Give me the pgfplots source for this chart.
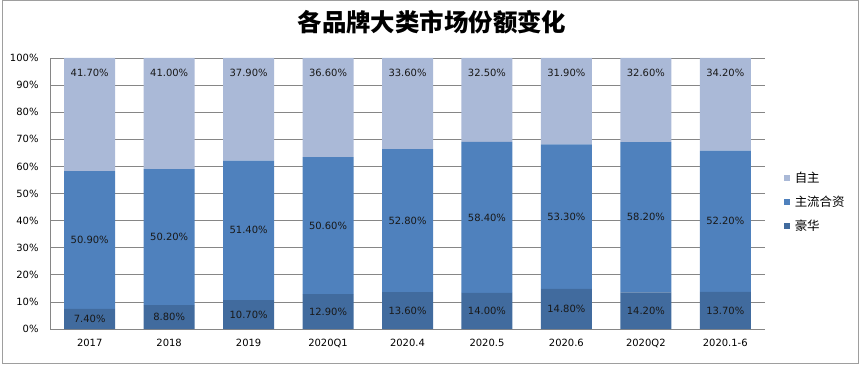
\documentclass[border=0pt]{standalone}
\usepackage{pgfplots}
\usepackage{pgfplotstable}
\pgfplotsset{compat=1.18}
\usepackage{fontspec}
\setmainfont{DejaVu Sans}
\newfontfamily\cjk{Noto Sans CJK SC}
\definecolor{cOwn}{HTML}{AAB9D7}
\definecolor{cMain}{HTML}{4F81BD}
\definecolor{cLux}{HTML}{416B9E}
\definecolor{cGrid}{HTML}{868686}
\pgfplotstableread{
x lux main own
0 7.4 50.9 41.7
1 8.8 50.2 41.0
2 10.7 51.4 37.9
3 12.9 50.6 36.6
4 13.6 52.8 33.6
5 14.0 58.4 32.5
6 14.8 53.3 31.9
7 14.2 58.2 32.6
8 13.7 52.2 34.2
}\datatable
\newcommand{\tot}{(\thisrow{lux}+\thisrow{main}+\thisrow{own})}
\begin{document}
\begin{tikzpicture}[x=1bp,y=1bp]
\path (0,0) rectangle (864,364);
\draw[cGrid!80, line width=1bp] (2,1) rectangle (858,363);
\node[font=\cjk\bfseries\fontsize{24.5}{28}\selectfont] at (432,342) {各品牌大类市场份额变化};
\begin{axis}[
  at={(50bp,35bp)}, anchor=south west,
  scale only axis, width=715bp, height=271bp,
  xmin=-0.5, xmax=8.5, ymin=0, ymax=100,
  ybar stacked, bar width=51bp,
  axis x line*=bottom, axis y line*=left,
  axis line style={cGrid, line width=0.8bp},
  major tick length=0pt,
  xtick={0,...,8},
  xticklabels={2017,2018,2019,2020Q1,2020.4,2020.5,2020.6,2020Q2,2020.1-6},
  ytick={0,10,...,100},
  yticklabels={0\%,10\%,20\%,30\%,40\%,50\%,60\%,70\%,80\%,90\%,100\%},
  ticklabel style={font=\fontsize{10}{12}\selectfont, text=black},
  xticklabel style={yshift=-7bp},
  yticklabel style={xshift=-8bp},
  ymajorgrids, grid style={cGrid, line width=0.8bp},
  reverse legend,
  legend cell align=left,
  legend style={draw=none, fill=none, at={(1.026,0.585)}, anchor=north west,
    font=\cjk\fontsize{12.5}{14}\selectfont, row sep=10bp, inner sep=0pt,
    nodes={inner sep=1bp},
    /tikz/every odd column/.append style={column sep=4bp}},
]
\addplot[fill=cLux, draw=none, legend image code/.code={\fill[cLux] (0bp,-3bp) rectangle (6bp,3bp);}]
  table[x=x, y expr={\thisrow{lux}*100/\tot}] {\datatable};
\addlegendentry{豪华}
\addplot[fill=cMain, draw=none, legend image code/.code={\fill[cMain] (0bp,-3bp) rectangle (6bp,3bp);}]
  table[x=x, y expr={\thisrow{main}*100/\tot}] {\datatable};
\addlegendentry{主流合资}
\addplot[fill=cOwn, draw=none, legend image code/.code={\fill[cOwn] (0bp,-3bp) rectangle (6bp,3bp);}]
  table[x=x, y expr={\thisrow{own}*100/\tot}] {\datatable};
\addlegendentry{自主}
\end{axis}
\begin{axis}[
  at={(50bp,35bp)}, anchor=south west,
  scale only axis, width=715bp, height=271bp,
  xmin=-0.5, xmax=8.5, ymin=0, ymax=100,
  hide axis, clip=false,
  nodes near coords={\pgfmathprintnumber[fixed,fixed zerofill,precision=2,assume math mode=true]{\pgfplotspointmeta}\%},
  every node near coord/.append style={anchor=center, font=\fontsize{10}{12}\selectfont, text=black!90},
]
\addplot[draw=none, mark=none, point meta=\thisrow{lux}]
  table[x=x, y expr={\thisrow{lux}*50/\tot}] {\datatable};
\addplot[draw=none, mark=none, point meta=\thisrow{main}]
  table[x=x, y expr={(\thisrow{lux}+\thisrow{main}/2)*100/\tot}] {\datatable};
\addplot[draw=none, mark=none, point meta=\thisrow{own},
  every node near coord/.append style={yshift=-15bp}]
  table[x=x, y expr={100}] {\datatable};
\end{axis}
\end{tikzpicture}
\end{document}
